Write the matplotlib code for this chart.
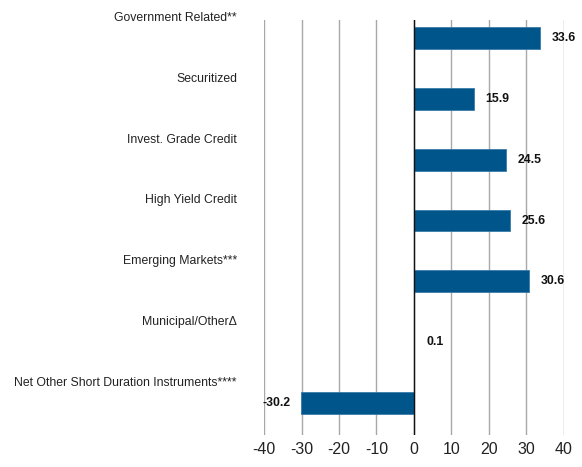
import matplotlib
matplotlib.use("Agg")
import matplotlib.pyplot as plt
from matplotlib.transforms import blended_transform_factory

kategorie = ["Government Related**", "Securitized", "Invest. Grade Credit",
             "High Yield Credit", "Emerging Markets***", "Municipal/Other\u0394",
             "Net Other Short Duration Instruments****"]
wartosci = [33.6, 15.9, 24.5, 25.6, 30.6, 0.1, -30.2]
ticki = [-40, -30, -20, -10, 0, 10, 20, 30, 40]

plt.rcParams['font.family'] = ['Liberation Sans', 'DejaVu Sans']

fig = plt.figure(figsize=(5.82, 4.67), dpi=100)
ax = fig.add_axes([264 / 582, 1 - 435 / 467, 300 / 582, 415 / 467])

pozycje = list(range(len(kategorie)))
ax.barh(pozycje, wartosci, height=0.36, color='#00558A', edgecolor='#3A7BAA',
        linewidth=0.6, zorder=3)

ax.set_xlim(-40, 40)
ax.set_ylim(6.53, -0.30)
ax.set_xticks(ticki)
ax.set_xticklabels([str(t) for t in ticki], fontsize=11.5, color='#222222')
ax.set_yticks([])
ax.tick_params(axis='x', length=0, pad=5)
for s in ax.spines.values():
    s.set_visible(False)
ax.grid(axis='x', color='#A8A8A8', linewidth=1, zorder=0)
ax.axvline(0, color='#111111', linewidth=1, zorder=4)

tr = blended_transform_factory(fig.transFigure, ax.transData)
for i, (k, w) in enumerate(zip(kategorie, wartosci)):
    ax.text(237 / 582, i - 0.33, k, transform=tr, ha='right', va='center',
            fontsize=8.8, color='#222222')
    if w >= 0:
        ax.annotate(f"{w}", (w, i), xytext=(12, 0), textcoords='offset pixels',
                    ha='left', va='center', fontsize=8.8, fontweight='bold', color='#111111')
    else:
        ax.annotate(f"{w}", (w, i), xytext=(-10, 0), textcoords='offset pixels',
                    ha='right', va='center', fontsize=8.8, fontweight='bold', color='#111111')

fig.savefig("out.png", dpi=100)
